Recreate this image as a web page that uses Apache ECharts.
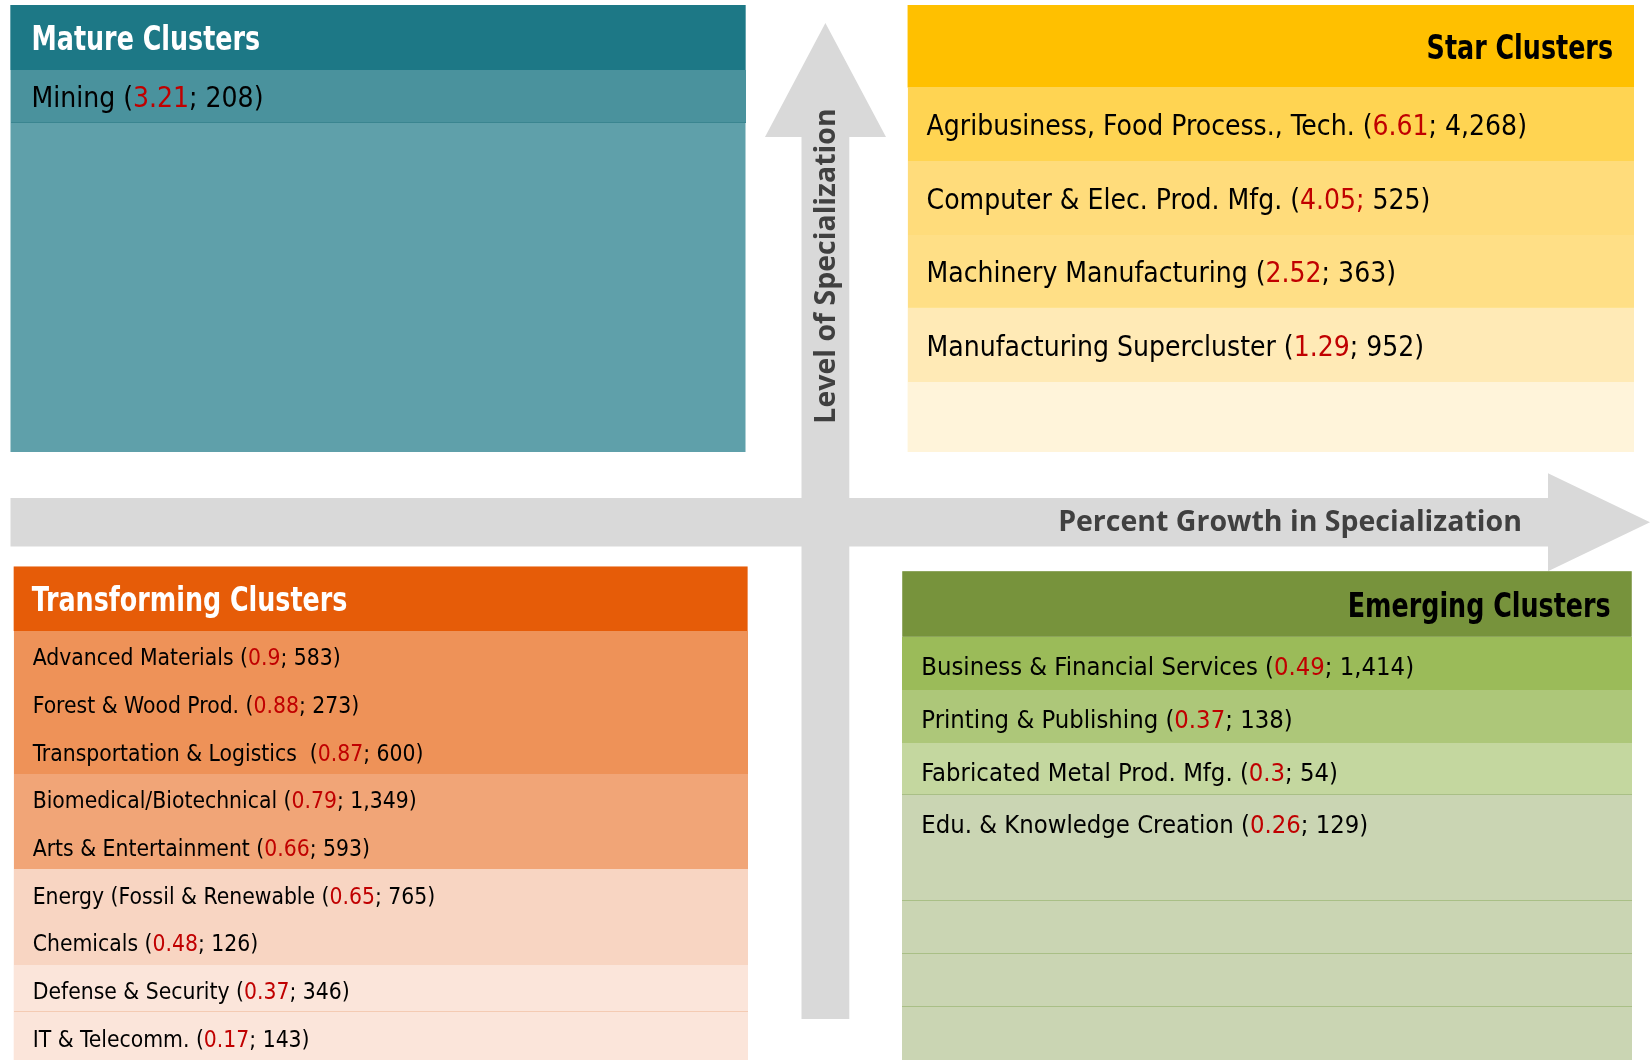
<!DOCTYPE html>
<html><head><meta charset="utf-8">
<script src="https://cdn.jsdelivr.net/npm/echarts@6/dist/echarts.min.js"></script>
<style>html,body{margin:0;padding:0;background:#fff}#c{width:1651px;height:1060px}</style>
</head><body><div id="c"></div><script>
// ---------- DATA ----------
const matureNames = ['Mining'];
const matureLQ = [3.21];
const matureEmp = [208];

const starNames = ['Agribusiness, Food Process., Tech.', 'Computer & Elec. Prod. Mfg.', 'Machinery Manufacturing', 'Manufacturing Supercluster'];
const starLQ = [6.61, 4.05, 2.52, 1.29];
const starEmp = [4268, 525, 363, 952];

const transNames = ['Advanced Materials', 'Forest & Wood Prod.', 'Transportation & Logistics ', 'Biomedical/Biotechnical', 'Arts & Entertainment', 'Energy (Fossil & Renewable', 'Chemicals', 'Defense & Security', 'IT & Telecomm.'];
const transLQ = [0.9, 0.88, 0.87, 0.79, 0.66, 0.65, 0.48, 0.37, 0.17];
const transEmp = [583, 273, 600, 1349, 593, 765, 126, 346, 143];

const emergNames = ['Business & Financial Services', 'Printing & Publishing', 'Fabricated Metal Prod. Mfg.', 'Edu. & Knowledge Creation'];
const emergLQ = [0.49, 0.37, 0.3, 0.26];
const emergEmp = [1414, 138, 54, 129];

const quadrantTitles = ['Mature Clusters', 'Star Clusters', 'Transforming Clusters', 'Emerging Clusters'];
const axisTitles = ['Level of Specialization', 'Percent Growth in Specialization'];

// ---------- STYLE / LAYOUT ----------
const NARROW = '"Liberation Sans Narrow", "DejaVu Sans Condensed", "Arial Narrow", sans-serif';
const ARROW = '#D9D9D9';
const RED = '#C00000';

const quads = {
  mature: { x: 10.5, y: 5, w: 735, h: 447, headH: 65, head: '#1D7886', body: '#5FA0AA', titleColor: '#fff', titleAlign: 'left', titleDx: 21,
    gridTop: 70, rows: 1, rowH: 53, fs: 28, textDx: 21, textDy: 3,
    colors: ['#4A929D'], lines: [1], lineColor: '#3A8590', redSemi: [0], names: matureNames, lq: matureLQ, emp: matureEmp },
  star: { x: 907.6, y: 5, w: 726.4, h: 447, headH: 82.4, head: '#FFC000', body: '#FFF4DA', titleColor: '#000', titleAlign: 'right', titleDx: 21,
    gridTop: 87.4, rows: 4, rowH: 73.6, fs: 28, textDx: 19, textDy: 3.5,
    colors: ['#FFD452', '#FFDC7B', '#FFDF86', '#FFEAB6'], lines: [0, 0, 1, 0], lineColor: '#FFE38F', redSemi: [0, 1, 0, 0], names: starNames, lq: starLQ, emp: starEmp },
  trans: { x: 13.7, y: 566.5, w: 733.9, h: 493.5, headH: 64.5, head: '#E65C08', body: '#FBE5DA', titleColor: '#fff', titleAlign: 'left', titleDx: 18,
    gridTop: 631, rows: 9, rowH: 48, fs: 22.7, textDx: 19, textDy: 4.5,
    colors: ['#EE9258', '#EE9258', '#EE9258', '#F1A577', '#F1A577', '#F8D5C2', '#F8D5C2', '#FBE5DA', '#FBE5DA'],
    lines: [0, 0, 0, 0, 0, 0, 0, 1, 0], lineColor: '#F4CBB3', redSemi: [], names: transNames, lq: transLQ, emp: transEmp },
  emerg: { x: 902.3, y: 571.2, w: 729.4, h: 488.8, headH: 65.5, head: '#77933C', body: '#CAD5B3', titleColor: '#000', titleAlign: 'right', titleDx: 21,
    gridTop: 636.7, rows: 8, rowH: 53.25, fs: 25.4, textDx: 19, textDy: 5,
    colors: ['#9BBB59', '#ADC779', '#C4D79F', '#CAD5B3', '#CAD5B3', '#CAD5B3', '#CAD5B3', '#CAD5B3'],
    lines: [0, 0, 1, 0, 1, 1, 1, 0], lineColor: '#A9BF86', redSemi: [], names: emergNames, lq: emergLQ, emp: emergEmp }
};
const quadOrder = ['mature', 'star', 'trans', 'emerg'];
const titleFS = 33, titleScaleX = 0.855;

// ---------- BUILD ----------
const fmt = n => n.toLocaleString('en-US');
const grids = [], xAxes = [], yAxes = [], series = [], graphics = [];

// arrows (decorative axes)
const vShaft = [801.5, 849.3], vHead = [765, 886], vTipY = 23, vBaseY = 137, vBottom = 1019;
const hShaft = [498, 546.5], hHead = [473.2, 571.2], hLeft = 10.5, hBaseX = 1548, hTipX = 1650;
graphics.push({ type: 'polygon', z: 1, shape: { points: [
  [hLeft, hShaft[0]], [hBaseX, hShaft[0]], [hBaseX, hHead[0]], [hTipX, (hShaft[0] + hShaft[1]) / 2],
  [hBaseX, hHead[1]], [hBaseX, hShaft[1]], [hLeft, hShaft[1]]] }, style: { fill: ARROW } });
graphics.push({ type: 'polygon', z: 1, shape: { points: [
  [(vShaft[0] + vShaft[1]) / 2, vTipY], [vHead[1], vBaseY], [vShaft[1], vBaseY], [vShaft[1], vBottom],
  [vShaft[0], vBottom], [vShaft[0], vBaseY], [vHead[0], vBaseY]] }, style: { fill: ARROW } });
graphics.push({ type: 'text', z: 3, x: 827, y: 266, rotation: Math.PI / 2,
  style: { text: axisTitles[0], font: 'bold 28.5px "Open Sans"', fill: '#404040', align: 'center', verticalAlign: 'middle' } });
graphics.push({ type: 'text', z: 3, x: 1290, y: 523,
  style: { text: axisTitles[1], font: 'bold 28.5px "Open Sans"', fill: '#404040', align: 'center', verticalAlign: 'middle' } });

quadOrder.forEach((key, qi) => {
  const q = quads[key];
  // panel + header
  graphics.push({ type: 'rect', z: 2, shape: { x: q.x, y: q.y, width: q.w, height: q.h }, style: { fill: q.body } });
  graphics.push({ type: 'rect', z: 2, shape: { x: q.x, y: q.y, width: q.w, height: q.headH }, style: { fill: q.head } });
  const tx = q.titleAlign === 'left' ? q.x + q.titleDx : q.x + q.w - q.titleDx;
  graphics.push({ type: 'text', z: 3, x: tx, y: q.y + q.headH / 2 + 4, scaleX: titleScaleX,
    style: { text: quadrantTitles[qi], font: 'bold ' + titleFS + 'px ' + NARROW, fill: q.titleColor, align: q.titleAlign, verticalAlign: 'middle' } });

  const cats = [];
  for (let i = 0; i < q.rows; i++) cats.push(i < q.names.length ? q.names[i] : '');
  grids.push({ left: q.x, top: q.gridTop, width: q.w, height: q.rows * q.rowH, containLabel: false, z: 5 });
  xAxes.push({ gridIndex: qi, type: 'value', min: 0, max: 1, show: false });
  yAxes.push({ gridIndex: qi, type: 'category', data: cats, inverse: true, show: false, boundaryGap: true });
  series.push({
    type: 'custom', xAxisIndex: qi, yAxisIndex: qi, z: 5, silent: true, clip: false,
    data: cats.map((c, i) => [0, i]),
    renderItem: (params, api) => {
      const i = params.dataIndex, cs = params.coordSys;
      const c = api.coord([0, i]);
      const h = api.size([0, 1])[1];
      const top = Math.round(c[1] - h / 2), bot = Math.round(c[1] + h / 2);
      const x0 = Math.round(cs.x), x1 = Math.round(cs.x + cs.width);
      const ch = [{ type: 'rect', shape: { x: x0, y: top, width: x1 - x0, height: bot - top }, style: { fill: q.colors[i] } }];
      if (q.lines[i]) ch.push({ type: 'rect', shape: { x: x0, y: bot - 1, width: x1 - x0, height: 1 }, style: { fill: q.lineColor } });
      if (i < q.names.length) {
        const semi = q.redSemi[i] ? '{r|' + q.lq[i] + ';}{t| ' : '{r|' + q.lq[i] + '}{t|; ';
        ch.push({ type: 'text', x: cs.x + q.textDx, y: c[1] + q.textDy, style: {
          text: '{t|' + q.names[i] + ' (}' + semi + fmt(q.emp[i]) + ')}',
          align: 'left', verticalAlign: 'middle',
          rich: {
            t: { fill: '#000', fontSize: q.fs, fontFamily: NARROW },
            r: { fill: RED, fontSize: q.fs, fontFamily: NARROW }
          }
        } });
      }
      return { type: 'group', children: ch };
    }
  });
});

const chart = echarts.init(document.getElementById('c'), null, { renderer: 'canvas' });
chart.setOption({
  animation: false,
  backgroundColor: '#fff',
  grid: grids, xAxis: xAxes, yAxis: yAxes, series: series,
  graphic: { elements: graphics }
});
</script></body></html>
